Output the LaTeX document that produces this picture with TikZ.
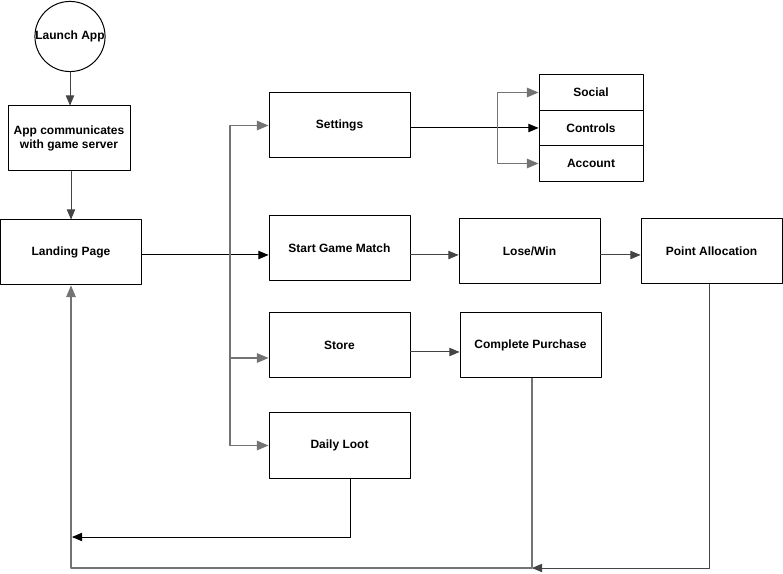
\documentclass[tikz,border=0pt]{standalone}
\usepackage{fontspec}
\setmainfont{Liberation Sans}
\usepackage{tikz}
\usetikzlibrary{arrows}
\definecolor{wwwwww}{rgb}{0.45,0.45,0.45}
\definecolor{uuuuuu}{rgb}{0.26666666666666666,0.26666666666666666,0.26666666666666666}
\tikzstyle{every node}=[font=\bfseries\fontsize{9}{11}\selectfont]
\tikzstyle{box}=[draw,rectangle,line width=0.75pt,minimum width=105.75pt,minimum height=48.75pt,inner sep=0pt,align=center]
\tikzstyle{subbox}=[draw,rectangle,line width=0.75pt,minimum width=78pt,minimum height=26.6pt,inner sep=0pt]
\tikzstyle{trunk}=[->,color=wwwwww,line width=1pt]
\begin{document}
\begin{tikzpicture}[line cap=round,line join=round,>=triangle 45,x=0.75pt,y=-0.75pt,line width=0.75pt]
            \useasboundingbox (0,0) rectangle (783,574);
            \node[draw,circle,line width=0.75pt,minimum size=52.5pt,inner sep=0pt] (launch) at (70,36.5) {Launch App};
            \node[box,minimum width=91.5pt] (comm) at (69,138.5) {App communicates\\with game server};
            \node[box] (landing) at (71,252.5) {Landing Page};
            \node[box] (settings) at (339.5,125.5) {Settings};
            \node[box] (start) at (339.5,248.5) {Start Game Match};
            \node[box] (store) at (339.5,345.5) {Store};
            \node[box] (daily) at (339.5,445.5) {Daily Loot};
            \node[box] (lose) at (529.5,251.5) {Lose/Win};
            \node[box] (point) at (711.5,251.5) {Point Allocation};
            \node[box] (purchase) at (530.5,345.5) {Complete Purchase};
            \node[subbox] (social) at (591,92.5) {Social};
            \node[subbox] (controls) at (591,128) {Controls};
            \node[subbox] (account) at (591,163.5) {Account};
            \coordinate (fork) at (230,445.5);
            \coordinate (sfork) at (497.5,127.5);
            \coordinate (loopa) at (72,537);
            \coordinate (loopb) at (532,568);
            % start up
            \draw [->,color=uuuuuu] (launch) -- (launch |- comm.north);
            \draw [->,color=uuuuuu] (comm.south -| landing.north) -- (landing.north);
            \draw [->] (landing.east |- 0,255) -- (start.west |- 0,255);
            % menu branches
            \draw [trunk] (fork) |- (settings.west);
            \draw [trunk] (fork |- 0,358) -- (store.west |- 0,358);
            \draw [trunk] (fork) -- (daily.west);
            \draw [->] (settings.east |- controls.west) -- (controls.west);
            \draw [trunk] (sfork) |- (social.west);
            \draw [trunk] (sfork) |- (account.west);
            \draw [->,color=uuuuuu] (start.east |- 0,255) -- (lose.west |- 0,255);
            \draw [->,color=uuuuuu] (lose.east |- 0,255) -- (point.west |- 0,255);
            \draw [->,color=uuuuuu] (store.east |- 0,352) -- (purchase.west |- 0,352);
            % back to landing page
            \draw [->] ([xshift=8.6pt]daily.south) |- (loopa);
            \draw [->,color=uuuuuu] ([xshift=-1.5pt]point.south) |- (loopb);
            \draw [trunk] (loopb |- purchase.south) -- (loopb) -| (landing.south);
        \end{tikzpicture}
\end{document}
